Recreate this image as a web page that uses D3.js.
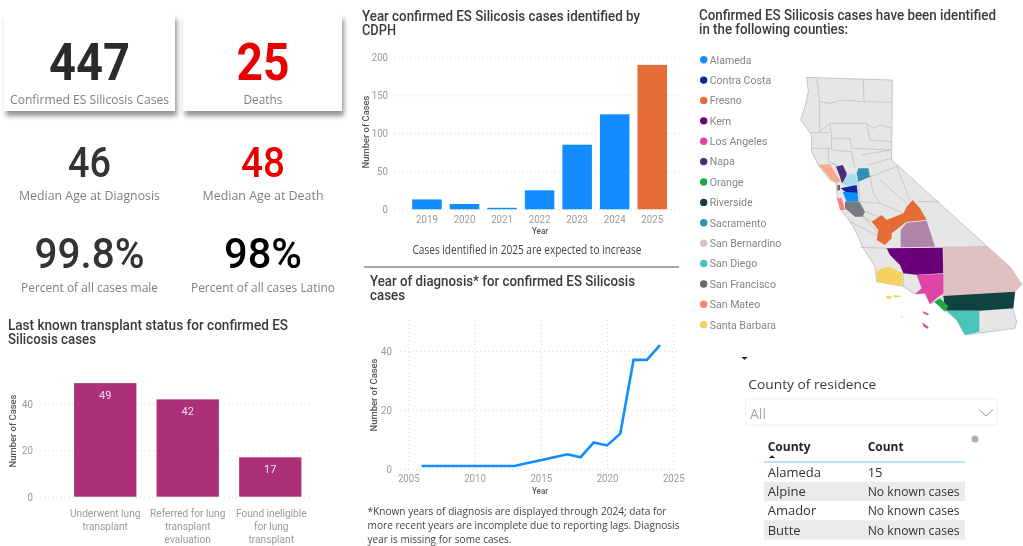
<!DOCTYPE html>
<html>
<head>
<meta charset="utf-8">
<script src="https://cdn.jsdelivr.net/npm/d3@7"></script>
<style>
  html, body { margin: 0; padding: 0; background: #fff; overflow: hidden; }
  svg { display: block; filter: blur(0.4px); }
  text { font-family: "Open Sans", sans-serif; }
  .din { font-family: Roboto, sans-serif; }
  .title { font-family: Roboto, sans-serif; font-size: 14px; font-weight: 500; fill: #3a3a3a; }
  .tick-label text { font-family: Roboto, sans-serif; font-size: 11px; fill: #9a9a9a; }
  .axis-title { font-family: Roboto, sans-serif; font-size: 9.4px; font-weight: 500; fill: #555; }
  .grid line { stroke: #d8d8d8; stroke-dasharray: 1 3; }
</style>
</head>
<body>
<svg id="page" width="1023" height="546"></svg>
<script>
// headline numbers
const cardValues = ["447", "25"];
const cardLabels = ["Confirmed ES Silicosis Cases", "Deaths"];
const medianValues = ["46", "48"];
const medianLabels = ["Median Age at Diagnosis", "Median Age at Death"];
const percentValues = ["99.8%", "98%"];
const percentLabels = ["Percent of all cases male", "Percent of all cases Latino"];

// year identified by CDPH
const identifiedYears = ["2019", "2020", "2021", "2022", "2023", "2024", "2025"];
const identifiedCases = [13, 7, 2, 25, 85, 125, 190];

// year of diagnosis
const diagnosisYears = [2006, 2007, 2008, 2009, 2010, 2011, 2012, 2013, 2014, 2015, 2016, 2017, 2018, 2019, 2020, 2021, 2022, 2023, 2024];
const diagnosisCases = [1, 1, 1, 1, 1, 1, 1, 1, 2, 3, 4, 5, 4, 9, 8, 12, 37, 37, 42];

// transplant status
const transplantLabels = [
  ["Underwent lung", "transplant"],
  ["Referred for lung", "transplant", "evaluation"],
  ["Found ineligible", "for lung", "transplant"]
];
const transplantCases = [49, 42, 17];

// map legend
const legendCounties = ["Alameda", "Contra Costa", "Fresno", "Kern", "Los Angeles", "Napa", "Orange", "Riverside", "Sacramento", "San Bernardino", "San Diego", "San Francisco", "San Mateo", "Santa Barbara"];
const legendColors = ["#118dff", "#12239e", "#e66c37", "#6b007b", "#e044a7", "#4a2b7d", "#1aab40", "#0f4240", "#2c93b5", "#dfbfbf", "#4ac5bb", "#5f6b6d", "#fd7f7f", "#f5d25c"];

// county table
const tableCounties = ["Alameda", "Alpine", "Amador", "Butte"];
const tableCounts = ["15", "No known cases", "No known cases", "No known cases"];

// map outlines in map units
const stateOutline = [[350,232],[355,275],[345,320],[332,360],[365,405],[365,455],[385,495],[420,540],[438,548],[440,570],[442,600],[455,632],[480,665],[495,690],[520,745],[555,800],[560,845],[600,852],[637,858],[675,882],[705,880],[720,912],[735,905],[770,935],[800,960],[825,1005],[975,985],[980,965],[968,925],[975,875],[995,853],[960,800],[890,738],[605,480],[607,240]];
const countyLines = [
  [[380,237],[385,270],[388,305]],
  [[520,240],[522,305]],
  [[388,305],[420,310],[440,305],[450,300],[522,305],[605,307]],
  [[388,305],[388,395],[420,370]],
  [[365,398],[418,398]],
  [[420,370],[530,370],[550,385],[570,375],[605,385]],
  [[420,370],[425,415],[480,415]],
  [[365,445],[420,445]],
  [[425,415],[425,450],[485,455]],
  [[480,415],[485,445],[600,450]],
  [[530,370],[540,420],[604,425]],
  [[485,455],[495,505]],
  [[515,465],[604,450]],
  [[535,495],[604,475]],
  [[540,530],[620,500]],
  [[505,545],[510,605]],
  [[540,530],[550,580],[570,610]],
  [[570,540],[650,610]],
  [[620,500],[660,600]],
  [[525,635],[590,660]],
  [[518,650],[545,665]],
  [[570,610],[640,640]],
  [[508,605],[570,610]],
  [[415,445],[415,485],[450,500]],
  [[480,665],[560,705]],
  [[515,645],[565,700],[585,735]],
  [[510,742],[590,745]],
  [[685,605],[745,605]],
  [[637,818],[680,824]],
  [[640,820],[640,858]]
];
const countyShapes = [
  { fill: "#f7a98a", points: [[385,495],[420,492],[432,512],[452,545],[438,548],[420,535],[408,520]] },
  { fill: "#4a2b7d", points: [[438,500],[458,495],[470,520],[468,545],[455,548],[450,530]] },
  { fill: "#a6dcec", points: [[470,525],[495,520],[500,535],[505,545],[490,560],[465,555],[458,548]] },
  { fill: "#2c93b5", points: [[505,505],[535,505],[540,530],[505,545],[500,520]] },
  { fill: "#12239e", points: [[452,565],[500,555],[503,580],[470,578]] },
  { fill: "#118dff", points: [[458,575],[503,578],[505,605],[470,605]] },
  { fill: "#5f6b6d", points: [[442,555],[450,555],[450,570],[442,572]] },
  { fill: "#fd7f7f", points: [[442,595],[455,595],[465,630],[450,630]] },
  { fill: "#747c7e", points: [[465,605],[508,605],[525,635],[518,650],[495,650],[465,625]] },
  { fill: "#e66c37", points: [[545,665],[575,645],[590,660],[640,640],[650,620],[668,600],[690,625],[710,660],[650,665],[630,680],[605,700],[605,715],[585,735],[560,720],[565,690]] },
  { fill: "#b083a9", points: [[632,690],[650,668],[710,662],[735,740],[632,742]] },
  { fill: "#6b007b", points: [[590,745],[758,743],[760,820],[680,824],[640,820],[630,795],[600,765]] },
  { fill: "#dfbfbf", points: [[760,740],[890,738],[960,800],[995,853],[975,875],[760,890],[750,885],[760,820]] },
  { fill: "#e044a7", points: [[680,824],[760,822],[760,880],[740,895],[720,912],[705,880],[675,882],[695,865]] },
  { fill: "#f5d25c", points: [[560,812],[595,800],[637,818],[637,858],[600,852],[562,845]] },
  { fill: "#0f4240", points: [[760,888],[975,875],[970,925],[870,932],[770,932],[762,905]] },
  { fill: "#1aab40", points: [[733,905],[750,895],[775,918],[765,935]] },
  { fill: "#4ac5bb", points: [[770,932],[868,932],[868,995],[825,1005],[800,960]] },
  { fill: "#f5d25c", points: [[588,887],[605,888],[600,897],[590,895]] },
  { fill: "#f5d25c", points: [[610,885],[635,888],[625,892],[612,892]] },
  { fill: "#e044a7", points: [[698,933],[718,942],[712,946],[700,940]] },
  { fill: "#e044a7", points: [[697,967],[716,982],[712,987],[700,978]] },
  { fill: "#e6e6e6", points: [[630,948],[640,950],[638,954],[630,952]] }
];

const svg = d3.select("#page");

// text helper, textLength keeps widths same as the screenshot
function label(x, y, str, opts) {
  const t = svg.append("text").attr("x", x).attr("y", y).text(str)
    .attr("text-anchor", opts.anchor || "middle")
    .attr("font-size", opts.size)
    .attr("fill", opts.fill || "#7f7f7f");
  if (opts.cls) t.attr("class", opts.cls);
  if (opts.weight) t.attr("font-weight", opts.weight);
  if (opts.width) t.attr("textLength", opts.width).attr("lengthAdjust", "spacingAndGlyphs");
  return t;
}

// squeeze roboto a bit so it runs as narrow as the din in the reference
function narrow(selection, k) {
  selection.each(function () {
    d3.select(this)
      .attr("textLength", this.getComputedTextLength() * k)
      .attr("lengthAdjust", "spacingAndGlyphs");
  });
}

function title(x, y, lines, w) {
  lines.forEach((line, i) => {
    const t = svg.append("text").attr("class", "title").attr("x", x).attr("y", y + i * 14.3).text(line);
    if (w[i]) t.attr("textLength", w[i]).attr("lengthAdjust", "spacingAndGlyphs");
  });
}

// ---- kpi cards
const defs = svg.append("defs");
const shadow = defs.append("filter").attr("id", "cardShadow")
  .attr("x", "-10%").attr("y", "-10%").attr("width", "125%").attr("height", "135%");
shadow.append("feDropShadow").attr("dx", 2).attr("dy", 5).attr("stdDeviation", 2.6)
  .attr("flood-color", "#000").attr("flood-opacity", 0.42);

svg.append("rect").attr("x", 4).attr("y", 14).attr("width", 171).attr("height", 97)
  .attr("fill", "#fff").attr("filter", "url(#cardShadow)");
svg.append("rect").attr("x", 183).attr("y", 14).attr("width", 159).attr("height", 97)
  .attr("fill", "#fff").attr("filter", "url(#cardShadow)");

const colX = [89.5, 263];
const bigWidths = [81, 53];
const bigColors = ["#2b2b2b", "#e60000"];
const cardLabelWidths = [159, 39];
cardValues.forEach((v, i) => {
  label(colX[i], 80, v, { cls: "din", size: 51, weight: 700, fill: bigColors[i], width: bigWidths[i] });
  label(colX[i], 103.8, cardLabels[i], { size: 12, width: cardLabelWidths[i] });
});
const medianWidths = [43, 44];
const medianColors = ["#333", "#e60000"];
const medianLabelWidths = [141, 121];
medianValues.forEach((v, i) => {
  label(colX[i], 176.5, v, { cls: "din", size: 43, weight: 500, fill: medianColors[i], width: medianWidths[i] });
  label(colX[i], 199.5, medianLabels[i], { size: 12.5, width: medianLabelWidths[i] });
});
const percentWidths = [110, 78];
const percentColors = ["#333", "#000"];
const percentLabelWidths = [137, 144];
percentValues.forEach((v, i) => {
  label(colX[i], 268, v, { cls: "din", size: 43, weight: 500, fill: percentColors[i], width: percentWidths[i] });
  label(colX[i], 291.5, percentLabels[i], { size: 12.5, width: percentLabelWidths[i] });
});

// ---- year identified bars
title(362, 21, ["Year confirmed ES Silicosis cases identified by", "CDPH"], [278, 34]);

const yId = d3.scaleLinear().domain([0, 200]).range([209.3, 57.3]);
const xId = d3.scaleBand().domain(identifiedYears).range([408.2, 671]).paddingInner(0.214).paddingOuter(0.107);

svg.append("g").attr("class", "grid tick-label").attr("transform", "translate(395,0)")
  .call(d3.axisLeft(yId).tickValues([0, 50, 100, 150, 200]).tickSize(-288).tickPadding(7))
  .call(g => g.select(".domain").remove());
svg.selectAll(".bar-id").data(identifiedCases).join("rect").attr("class", "bar-id")
  .attr("x", (d, i) => xId(identifiedYears[i]))
  .attr("y", d => yId(d))
  .attr("width", xId.bandwidth())
  .attr("height", d => yId(0) - yId(d))
  .attr("fill", (d, i) => identifiedYears[i] === "2025" ? "#e66c37" : "#118dff");
svg.append("g").attr("class", "tick-label").attr("transform", "translate(0,209.3)")
  .call(d3.axisBottom(xId).tickSize(0).tickPadding(6))
  .call(g => g.select(".domain").remove());
label(540, 234, "Year", { cls: "axis-title", width: 16 });
svg.append("text").attr("class", "axis-title").attr("text-anchor", "middle")
  .attr("transform", "translate(368.5,132) rotate(-90)").text("Number of Cases");
label(527, 254, "Cases identified in 2025 are expected to increase", { size: 12, fill: "#444", width: 229 });
svg.append("line").attr("x1", 364).attr("x2", 679).attr("y1", 267).attr("y2", 267)
  .attr("stroke", "#8a8a8a").attr("stroke-width", 1.5);

// ---- year of diagnosis line
title(370, 286, ["Year of diagnosis* for confirmed ES Silicosis", "cases"], [265, 35]);

const xDx = d3.scaleLinear().domain([2005, 2025]).range([408.3, 673.3]);
const yDx = d3.scaleLinear().domain([0, 40]).range([469, 351]);

svg.append("g").attr("class", "grid").attr("transform", "translate(0,469)")
  .call(d3.axisBottom(xDx).tickValues([2005, 2010, 2015, 2020, 2025]).tickSize(-149).tickFormat(""))
  .call(g => g.select(".domain").remove());
svg.append("g").attr("class", "grid tick-label").attr("transform", "translate(400,0)")
  .call(d3.axisLeft(yDx).tickValues([0, 20, 40]).tickSize(-278).tickPadding(8))
  .call(g => g.select(".domain").remove());
svg.append("g").attr("class", "tick-label").attr("transform", "translate(0,469)")
  .call(d3.axisBottom(xDx).tickValues([2005, 2010, 2015, 2020, 2025]).tickFormat(d3.format("d")).tickSize(0).tickPadding(5))
  .call(g => g.select(".domain").remove());
svg.append("path").datum(diagnosisCases)
  .attr("fill", "none").attr("stroke", "#118dff").attr("stroke-width", 2.6)
  .attr("d", d3.line().x((d, i) => xDx(diagnosisYears[i])).y(d => yDx(d)));
label(540, 494, "Year", { cls: "axis-title", width: 16 });
svg.append("text").attr("class", "axis-title").attr("text-anchor", "middle")
  .attr("transform", "translate(377,395) rotate(-90)").text("Number of Cases");
const footnote = [
  "*Known years of diagnosis are displayed through 2024; data for",
  "more recent years are incomplete due to reporting lags. Diagnosis",
  "year is missing for some cases."
];
const footWidths = [299, 312, 144];
footnote.forEach((line, i) => {
  label(367.5, 515 + i * 14, line, { anchor: "start", size: 11.5, fill: "#444", width: footWidths[i] });
});

// ---- transplant bars
title(8, 330, ["Last known transplant status for confirmed ES", "Silicosis cases"], [280, 88]);

const yTx = d3.scaleLinear().domain([0, 40]).range([496.7, 404]);
const xTx = d3.scaleBand().domain(d3.range(transplantCases.length)).range([64, 311.5]).paddingInner(0.245).paddingOuter(0.122);

svg.append("g").attr("class", "grid tick-label").attr("transform", "translate(40,0)")
  .call(d3.axisLeft(yTx).tickValues([0, 20, 40]).tickSize(-272).tickPadding(7))
  .call(g => g.select(".domain").remove());
svg.selectAll(".bar-tx").data(transplantCases).join("rect").attr("class", "bar-tx")
  .attr("x", (d, i) => xTx(i))
  .attr("y", d => yTx(d))
  .attr("width", xTx.bandwidth())
  .attr("height", d => yTx(0) - yTx(d))
  .attr("fill", "#ac3079");
svg.selectAll(".bar-tx-label").data(transplantCases).join("text").attr("class", "bar-tx-label din")
  .attr("x", (d, i) => xTx(i) + xTx.bandwidth() / 2)
  .attr("y", d => yTx(d) + 15.5)
  .attr("text-anchor", "middle").attr("font-size", 11).attr("fill", "#f3dcea")
  .text(d => d);
transplantLabels.forEach((lines, i) => {
  lines.forEach((line, j) => {
    label(xTx(i) + xTx.bandwidth() / 2 + (i === 2 ? 1 : 0), 516.5 + j * 13.1, line, { cls: "din trans-label", size: 11, fill: "#999" });
  });
});
svg.append("text").attr("class", "axis-title").attr("text-anchor", "middle")
  .attr("transform", "translate(16,431) rotate(-90)").text("Number of Cases");

// ---- map
title(699, 20, ["Confirmed ES Silicosis cases have been identified", "in the following counties:"], [297, 149]);

const legendY = d3.scaleLinear().domain([0, legendCounties.length - 1]).range([59.7, 324.7]);
legendCounties.forEach((name, i) => {
  svg.append("circle").attr("cx", 703.7).attr("cy", legendY(i)).attr("r", 3.7).attr("fill", legendColors[i]);
  label(709.7, legendY(i) + 3.8, name, { anchor: "start", cls: "din legend-label", size: 11, fill: "#858585" });
});

const mapX = d3.scaleLinear().domain([0, 999]).range([690, 1023]);
const mapY = d3.scaleLinear().domain([0, 1035]).range([0, 345]);
const mapLine = d3.line().x(d => mapX(d[0])).y(d => mapY(d[1]));

svg.append("path").attr("d", mapLine(stateOutline) + "Z")
  .attr("fill", "#e6e6e6").attr("stroke", "#a8a8a8").attr("stroke-width", 0.6);
svg.selectAll(".county-line").data(countyLines).join("path").attr("class", "county-line")
  .attr("d", mapLine).attr("fill", "none").attr("stroke", "#a8a8a8").attr("stroke-width", 0.5);
svg.selectAll(".county").data(countyShapes).join("path").attr("class", "county")
  .attr("d", d => mapLine(d.points) + "Z").attr("fill", d => d.fill);

// ---- slicer and table
svg.append("path").attr("d", d3.symbol(d3.symbolTriangle, 16)()).attr("fill", "#333")
  .attr("transform", "translate(744.5,358) rotate(180) scale(1.1,0.55)");
label(748.3, 389, "County of residence", { anchor: "start", size: 13.5, fill: "#3a3a3a", width: 128 });
svg.append("rect").attr("x", 745.7).attr("y", 399).attr("width", 251.3).attr("height", 26)
  .attr("fill", "#fff").attr("stroke", "#eeeeee");
label(750, 419, "All", { anchor: "start", size: 14, fill: "#a6a6a6" });
svg.append("path").attr("d", d3.line()([[979, 409.5], [986, 416], [993, 409.5]]))
  .attr("fill", "none").attr("stroke", "#8c8c8c").attr("stroke-width", 0.9);

svg.append("circle").attr("cx", 975).attr("cy", 439).attr("r", 3.5).attr("fill", "#b0b0b0");
label(767.7, 450.5, "County", { anchor: "start", size: 13, weight: 700, fill: "#252525", width: 43 });
label(867.7, 450.5, "Count", { anchor: "start", size: 13, weight: 700, fill: "#252525", width: 36 });
svg.append("path").attr("d", d3.symbol(d3.symbolTriangle, 12)()).attr("fill", "#222")
  .attr("transform", "translate(772,457) scale(1.2,0.6)");
svg.append("line").attr("x1", 764).attr("x2", 965).attr("y1", 462).attr("y2", 462)
  .attr("stroke", "#a8d4f5").attr("stroke-width", 1.6);

const rowY = d3.scaleBand().domain(d3.range(tableCounties.length)).range([462.5, 539.5]);
tableCounties.forEach((name, i) => {
  if (i % 2 === 1) {
    svg.append("rect").attr("x", 764).attr("y", rowY(i)).attr("width", 201).attr("height", rowY.bandwidth())
      .attr("fill", "#ebebeb");
  }
  const base = rowY(i) + rowY.bandwidth() / 2 + 4.7;
  label(767.7, base, name, { anchor: "start", size: 13, fill: "#333" });
  label(867.7, base, tableCounts[i], { anchor: "start", size: 13, fill: "#333",
    width: tableCounts[i] === "15" ? null : 92 });
});

narrow(svg.selectAll(".tick-label text"), 0.88);
narrow(svg.selectAll(".trans-label"), 0.92);
narrow(svg.selectAll(".legend-label"), 0.96);
</script>
</body>
</html>
